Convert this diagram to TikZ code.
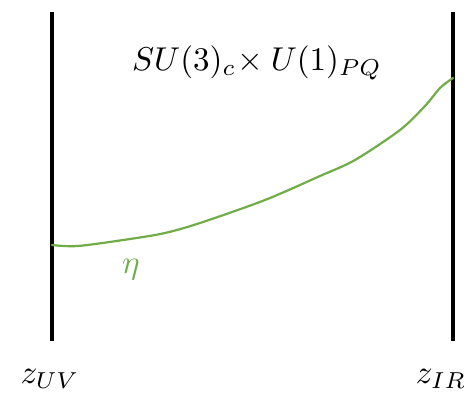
\documentclass[tikz,border=0pt]{standalone}
\usepackage{graphicx}
\usepackage{xcolor}
\definecolor{offgreen}{RGB}{112,173,71}
\begin{document}
\begin{tikzpicture}[x=1pt,y=-1pt,
  wall/.style={line width=3.6pt,black},
  field/.style={line width=2.2pt,offgreen,line join=round,line cap=round},
  lab/.style={inner sep=0pt}]
\useasboundingbox (0,0) rectangle (474,394);
\coordinate (uvtop) at (52,12);
\coordinate (uvbot) at (52,341);
\coordinate (irtop) at (453,12);
\coordinate (irbot) at (453,341);
\draw[wall] (uvtop) -- (uvbot);
\draw[wall] (irtop) -- (irbot);
\coordinate (s) at (52,245);
\coordinate (e) at (453,78);
\draw[field] plot[smooth,tension=0.5] coordinates {(52,245) (78,246) (130,239) (165,233) (200,223) (265,200) (320,176) (355,160) (400,130) (425,106) (440,88) (453,78)};
\node[lab] (gauge) at (257,63) {\scalebox{3.3}{$SU(3)_c\!\times U(1)_{PQ}$}};
\node[lab,text=offgreen] (eta) at (131,270) {\scalebox{3.3}{$\eta$}};
\node[lab] (zuv) at (50,379) {\scalebox{3.3}{$z_{UV}$}};
\node[lab] (zir) at (441,379) {\scalebox{3.3}{$z_{IR}$}};
\end{tikzpicture}
\end{document}
